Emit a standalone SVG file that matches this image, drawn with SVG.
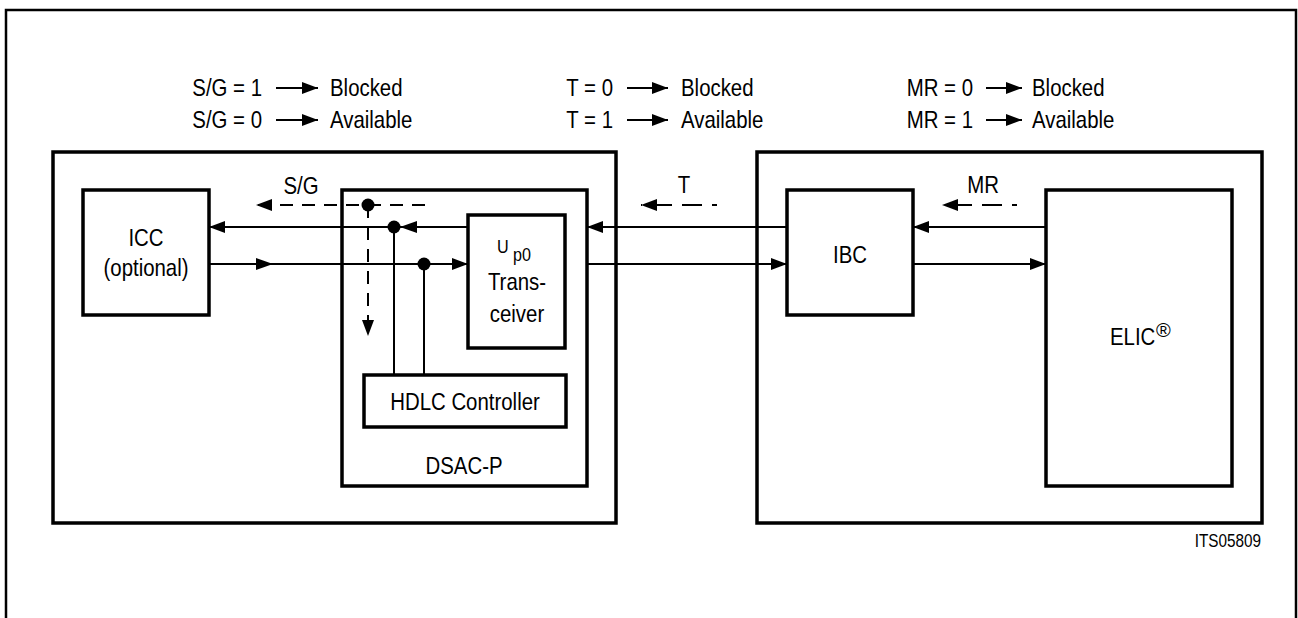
<svg xmlns="http://www.w3.org/2000/svg" width="1298" height="618" viewBox="0 0 1298 618">
<defs>
<style>
.t{font-family:"Liberation Sans",Arial,Helvetica,sans-serif;font-size:24px;fill:#000}
.m{text-anchor:middle}
.e{text-anchor:end}
.box{fill:#fff;stroke:#000;stroke-width:3.5}
.frame{fill:none;stroke:#000;stroke-width:2.5}
.ln{stroke:#000;stroke-width:2;fill:none}
.ds{stroke:#000;stroke-width:2;fill:none;stroke-dasharray:13 9}
.dot{fill:#000}
.head{fill:#000}
</style>
<marker id="ah" viewBox="0 0 16 12" refX="16" refY="6" markerWidth="16" markerHeight="12" markerUnits="userSpaceOnUse" orient="auto"><path d="M0,0L16,6L0,12z" fill="#000"/></marker>
</defs>
<rect width="1298" height="618" fill="#fff"/>
<path class="frame" d="M6,640V10H1296V640"/>

<g id="legend">
<text class="t e" transform="translate(262,96) scale(0.85,1)">S/G = 1</text>
<text class="t e" transform="translate(262,128) scale(0.85,1)">S/G = 0</text>
<line class="ln" x1="276" y1="88" x2="318" y2="88" marker-end="url(#ah)"/>
<line class="ln" x1="276" y1="120" x2="318" y2="120" marker-end="url(#ah)"/>
<text class="t" transform="translate(330,96) scale(0.85,1)">Blocked</text>
<text class="t" transform="translate(330,128) scale(0.85,1)">Available</text>

<text class="t e" transform="translate(613,96) scale(0.85,1)">T = 0</text>
<text class="t e" transform="translate(613,128) scale(0.85,1)">T = 1</text>
<line class="ln" x1="627" y1="88" x2="668" y2="88" marker-end="url(#ah)"/>
<line class="ln" x1="627" y1="120" x2="668" y2="120" marker-end="url(#ah)"/>
<text class="t" transform="translate(681,96) scale(0.85,1)">Blocked</text>
<text class="t" transform="translate(681,128) scale(0.85,1)">Available</text>

<text class="t e" transform="translate(973,96) scale(0.85,1)">MR = 0</text>
<text class="t e" transform="translate(973,128) scale(0.85,1)">MR = 1</text>
<line class="ln" x1="986" y1="88" x2="1022" y2="88" marker-end="url(#ah)"/>
<line class="ln" x1="986" y1="120" x2="1022" y2="120" marker-end="url(#ah)"/>
<text class="t" transform="translate(1032,96) scale(0.85,1)">Blocked</text>
<text class="t" transform="translate(1032,128) scale(0.85,1)">Available</text>
</g>

<g id="left-system">
<rect class="box" x="53" y="152" width="563" height="371"/>
</g>
<g id="right-system">
<rect class="box" x="757" y="152" width="505" height="371"/>
</g>

<g id="icc">
<rect class="box" x="83" y="190" width="126" height="125"/>
<text class="t m" transform="translate(146,246) scale(0.85,1)">ICC</text>
<text class="t m" transform="translate(146,276) scale(0.85,1)">(optional)</text>
</g>

<g id="dsac-p">
<rect class="box" x="342" y="190" width="245" height="296"/>
<text class="t m" transform="translate(464,474) scale(0.85,1)">DSAC-P</text>
</g>

<g id="up0">
<rect class="box" x="468" y="215" width="97" height="133"/>
<text class="t" style="font-size:19px" transform="translate(497,253) scale(0.85,1)">U</text>
<text class="t" style="font-size:19px" transform="translate(513,261) scale(0.85,1)">p0</text>
<text class="t m" transform="translate(517,290) scale(0.85,1)">Trans-</text>
<text class="t m" transform="translate(517,322) scale(0.85,1)">ceiver</text>
</g>

<g id="hdlc">
<rect class="box" x="364" y="375" width="202" height="52"/>
<text class="t m" transform="translate(465,410) scale(0.85,1)">HDLC Controller</text>
</g>

<g id="ibc">
<rect class="box" x="787" y="190" width="126" height="125"/>
<text class="t m" transform="translate(850,263) scale(0.85,1)">IBC</text>
</g>

<g id="elic">
<rect class="box" x="1046" y="190" width="186" height="296"/>
<text class="t" transform="translate(1110,345) scale(0.85,1)">ELIC</text>
<text class="t" style="font-size:20px" transform="translate(1156,337)">®</text>
</g>

<g id="connectors">
<line class="ln" x1="468" y1="227" x2="209" y2="227" marker-end="url(#ah)"/>
<polygon class="head" points="400,227 417,221 417,233"/>
<circle class="dot" cx="394" cy="227" r="6.5"/>
<line class="ln" x1="209" y1="264" x2="468" y2="264" marker-end="url(#ah)"/>
<polygon class="head" points="273,264 256,258 256,270"/>
<circle class="dot" cx="424" cy="264" r="6.5"/>
<line class="ln" x1="394" y1="227" x2="394" y2="375"/>
<line class="ln" x1="424" y1="264" x2="424" y2="375"/>
<line class="ds" x1="425" y1="205" x2="256" y2="205" marker-end="url(#ah)"/>
<circle class="dot" cx="368" cy="205" r="6.5"/>
<line class="ds" x1="368" y1="205" x2="368" y2="336" marker-end="url(#ah)"/>
<text class="t m" transform="translate(301,194) scale(0.85,1)">S/G</text>
<line class="ln" x1="787" y1="227" x2="587" y2="227" marker-end="url(#ah)"/>
<line class="ln" x1="587" y1="264" x2="787" y2="264" marker-end="url(#ah)"/>
<line class="ds" style="stroke-dasharray:20 10;stroke-dashoffset:15" x1="717" y1="205" x2="641" y2="205" marker-end="url(#ah)"/>
<text class="t m" transform="translate(684,193) scale(0.85,1)">T</text>
<line class="ln" x1="1046" y1="227" x2="913" y2="227" marker-end="url(#ah)"/>
<line class="ln" x1="913" y1="264" x2="1046" y2="264" marker-end="url(#ah)"/>
<line class="ds" style="stroke-dasharray:20 10;stroke-dashoffset:15" x1="1017" y1="205" x2="942" y2="205" marker-end="url(#ah)"/>
<text class="t m" transform="translate(983,193) scale(0.85,1)">MR</text>
</g>

<text class="t e" style="font-size:18px" transform="translate(1261,547) scale(0.85,1)">ITS05809</text>
</svg>
